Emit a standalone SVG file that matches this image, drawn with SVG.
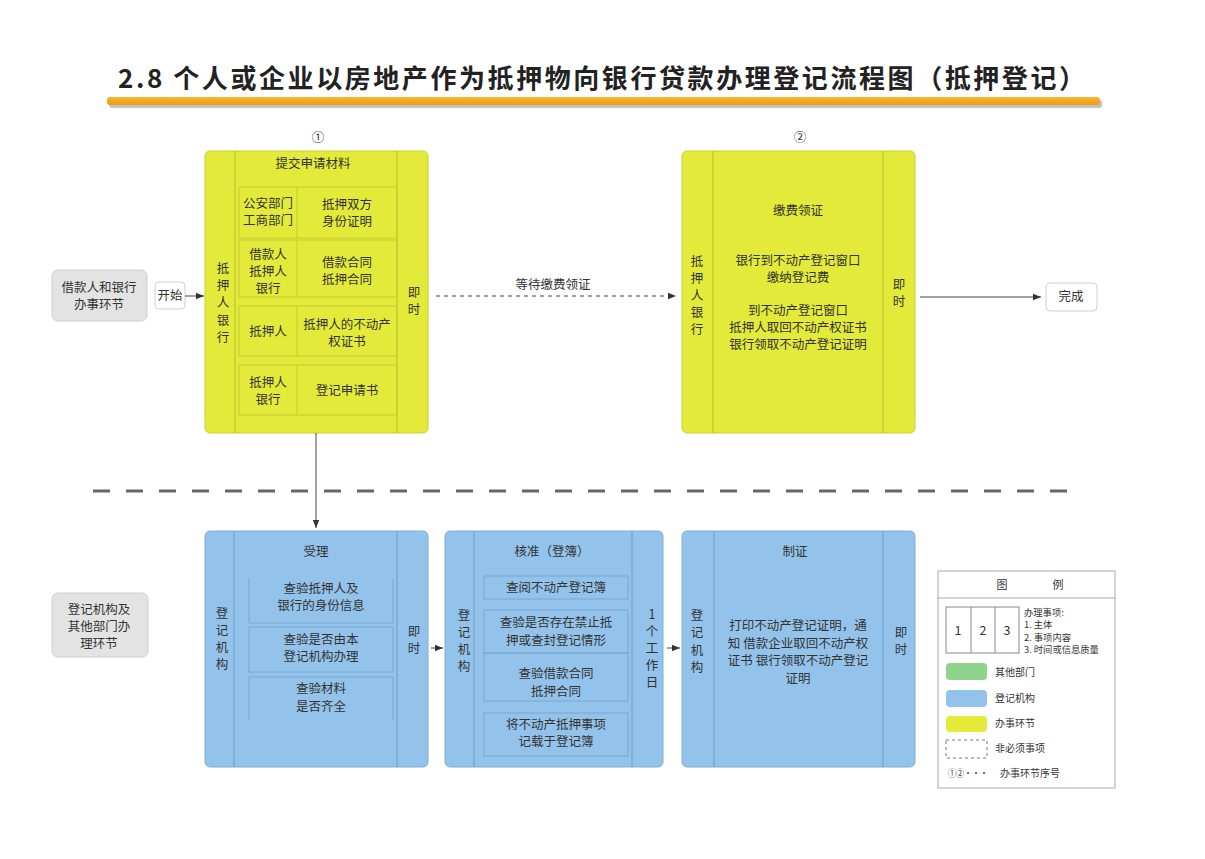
<svg xmlns="http://www.w3.org/2000/svg" width="1205" height="859" viewBox="0 0 1205 859">
<defs>
<style>
text{font-family:"Noto Sans CJK SC","Noto Sans",sans-serif;fill:#333;font-size:12.5px;text-anchor:middle}
.t{font-size:26px;font-weight:bold;fill:#222;text-anchor:start}
.y{fill:#e3ea3a;stroke:#c9cf33;stroke-width:1}
.b{fill:#93c3ea;stroke:#7fb0da;stroke-width:1}
.dy{stroke:#b9bf2c;stroke-width:1;fill:none}
.db{stroke:#6e9cc6;stroke-width:1;fill:none}
.iy{fill:none;stroke:#c5cc30;stroke-width:1}
.ib{fill:none;stroke:#79a8d2;stroke-width:1}
.g{fill:#e3e3e3;stroke:#cfcfcf;stroke-width:1}
.w{fill:#fff;stroke:#cfcfcf;stroke-width:1}
.c{stroke:#444;stroke-width:1;fill:none}
.s{font-size:10px;text-anchor:start}
.ls{font-size:9.3px;text-anchor:start}
</style>
<marker id="ah" viewBox="0 0 10 10" refX="10" refY="5" markerWidth="8" markerHeight="8" markerUnits="userSpaceOnUse" orient="auto"><path d="M0,1 L10,5 L0,9 z" fill="#333"/></marker>
<linearGradient id="og" x1="0" y1="0" x2="0" y2="1"><stop offset="0" stop-color="#f7b52e"/><stop offset="1" stop-color="#ee9a10"/></linearGradient>
</defs>
<rect width="1205" height="859" fill="#fff"/>
<g id="title">
<text class="t" x="118" y="88" textLength="967" lengthAdjust="spacing">2.8 个人或企业以房地产作为抵押物向银行贷款办理登记流程图（抵押登记）</text>
<rect x="109" y="100" width="993" height="8" rx="3" fill="#9a9a9a" opacity="0.6"/>
<rect x="107" y="97" width="993" height="8" rx="3" fill="url(#og)"/>
</g>
<g id="divider"><line x1="93" y1="491" x2="1077" y2="491" stroke="#666" stroke-width="3" stroke-dasharray="17,16"/></g>
<g id="lane1"><rect class="g" x="52" y="270" width="95" height="51" rx="6"/><text x="99" y="292">借款人和银行<tspan x="99" dy="17">办事环节</tspan></text></g>
<g id="lane2"><rect class="g" x="52" y="593" width="96" height="64" rx="6"/><text x="99" y="614">登记机构及<tspan x="99" dy="17">其他部门办</tspan><tspan x="99" dy="17">理环节</tspan></text></g>
<g id="start"><rect class="w" x="155" y="282" width="30" height="27" rx="4"/><text x="170" y="300">开始</text></g>
<g id="finish"><rect class="w" x="1046" y="283" width="51" height="28" rx="4"/><text x="1071" y="301">完成</text></g>
<g id="step1">
<text x="318" y="142">①</text>
<rect class="y" x="205" y="151" width="223" height="282" rx="5"/>
<line class="dy" x1="235" y1="151" x2="235" y2="433"/>
<line class="dy" x1="397" y1="151" x2="397" y2="433"/>
<text x="313" y="168">提交申请材料</text>
<rect class="iy" x="239" y="187" width="158" height="51"/><line class="iy" x1="297" y1="187" x2="297" y2="238"/>
<rect class="iy" x="239" y="240" width="158" height="57"/><line class="iy" x1="297" y1="240" x2="297" y2="297"/>
<rect class="iy" x="239" y="306" width="158" height="50"/><line class="iy" x1="297" y1="306" x2="297" y2="356"/>
<rect class="iy" x="239" y="365" width="158" height="50"/><line class="iy" x1="297" y1="365" x2="297" y2="415"/>
<text x="268" y="208">公安部门<tspan x="268" dy="17">工商部门</tspan></text>
<text x="347" y="209">抵押双方<tspan x="347" dy="17">身份证明</tspan></text>
<text x="268" y="259">借款人<tspan x="268" dy="17">抵押人</tspan><tspan x="268" dy="17">银行</tspan></text>
<text x="347" y="267">借款合同<tspan x="347" dy="17">抵押合同</tspan></text>
<text x="268" y="336">抵押人</text>
<text x="347" y="329">抵押人的不动产<tspan x="347" dy="17">权证书</tspan></text>
<text x="268" y="387">抵押人<tspan x="268" dy="17">银行</tspan></text>
<text x="347" y="395">登记申请书</text>
<text x="223" y="273">抵<tspan x="223" dy="17.2">押</tspan><tspan x="223" dy="17.2">人</tspan><tspan x="223" dy="17.2">银</tspan><tspan x="223" dy="17.2">行</tspan></text>
<text x="414" y="297">即<tspan x="414" dy="17">时</tspan></text>
</g>
<g id="step2">
<text x="800" y="142">②</text>
<rect class="y" x="682" y="151" width="233" height="282" rx="5"/>
<line class="dy" x1="713" y1="151" x2="713" y2="433"/>
<line class="dy" x1="883" y1="151" x2="883" y2="433"/>
<text x="798" y="215">缴费领证</text>
<text x="798" y="265">银行到不动产登记窗口<tspan x="798" dy="17">缴纳登记费</tspan></text>
<text x="798" y="315">到不动产登记窗口<tspan x="798" dy="17">抵押人取回不动产权证书</tspan><tspan x="798" dy="17">银行领取不动产登记证明</tspan></text>
<text x="697" y="266">抵<tspan x="697" dy="17">押</tspan><tspan x="697" dy="17">人</tspan><tspan x="697" dy="17">银</tspan><tspan x="697" dy="17">行</tspan></text>
<text x="899" y="289">即<tspan x="899" dy="17">时</tspan></text>
</g>
<g id="step3">
<rect class="b" x="205" y="531" width="223" height="236" rx="5"/>
<line class="db" x1="234" y1="531" x2="234" y2="767"/>
<line class="db" x1="397" y1="531" x2="397" y2="767"/>
<text x="316" y="556">受理</text>
<path class="ib" d="M249,578 V623 H393 V578"/>
<rect class="ib" x="249" y="627" width="144" height="45"/>
<path class="ib" d="M249,720 V677 H393 V720"/>
<text x="321" y="593">查验抵押人及<tspan x="321" dy="17">银行的身份信息</tspan></text>
<text x="321" y="644">查验是否由本<tspan x="321" dy="17">登记机构办理</tspan></text>
<text x="321" y="693">查验材料<tspan x="321" dy="18">是否齐全</tspan></text>
<text x="222" y="618">登<tspan x="222" dy="17">记</tspan><tspan x="222" dy="17">机</tspan><tspan x="222" dy="17">构</tspan></text>
<text x="414" y="636">即<tspan x="414" dy="17">时</tspan></text>
</g>
<g id="step4">
<rect class="b" x="445" y="531" width="218" height="236" rx="5"/>
<line class="db" x1="474" y1="531" x2="474" y2="767"/>
<line class="db" x1="632" y1="531" x2="632" y2="767"/>
<text x="552" y="556">核准（登簿）</text>
<rect class="ib" x="484" y="576" width="144" height="23"/>
<rect class="ib" x="484" y="610" width="144" height="43"/>
<rect class="ib" x="484" y="653" width="144" height="48"/>
<rect class="ib" x="484" y="713" width="144" height="43"/>
<text x="556" y="592">查阅不动产登记簿</text>
<text x="556" y="627">查验是否存在禁止抵<tspan x="556" dy="18">押或查封登记情形</tspan></text>
<text x="556" y="678">查验借款合同<tspan x="556" dy="18">抵押合同</tspan></text>
<text x="556" y="729">将不动产抵押事项<tspan x="556" dy="17">记载于登记簿</tspan></text>
<text x="464" y="620">登<tspan x="464" dy="17">记</tspan><tspan x="464" dy="17">机</tspan><tspan x="464" dy="17">构</tspan></text>
<text x="652" y="619">1<tspan x="652" dy="17">个</tspan><tspan x="652" dy="17">工</tspan><tspan x="652" dy="17">作</tspan><tspan x="652" dy="17">日</tspan></text>
</g>
<g id="step5">
<rect class="b" x="682" y="531" width="233" height="236" rx="5"/>
<line class="db" x1="714" y1="531" x2="714" y2="767"/>
<line class="db" x1="883" y1="531" x2="883" y2="767"/>
<text x="795" y="556">制证</text>
<text x="798" y="630">打印不动产登记证明，通<tspan x="798" dy="17.7">知 借款企业取回不动产权</tspan><tspan x="798" dy="17.7">证书 银行领取不动产登记</tspan><tspan x="798" dy="17.7">证明</tspan></text>
<text x="697" y="620">登<tspan x="697" dy="17.3">记</tspan><tspan x="697" dy="17.3">机</tspan><tspan x="697" dy="17.3">构</tspan></text>
<text x="901" y="637">即<tspan x="901" dy="17">时</tspan></text>
</g>
<g id="connectors">
<line class="c" x1="185" y1="296" x2="204" y2="296" marker-end="url(#ah)"/>
<line class="c" x1="436" y1="296" x2="676" y2="296" stroke-dasharray="4,4" marker-end="url(#ah)"/>
<text x="553" y="289">等待缴费领证</text>
<line class="c" x1="920" y1="297" x2="1041" y2="297" marker-end="url(#ah)"/>
<line class="c" x1="316" y1="433" x2="316" y2="528" marker-end="url(#ah)"/>
<line class="c" x1="431" y1="648" x2="443" y2="648" marker-end="url(#ah)"/>
<line class="c" x1="667" y1="648" x2="680" y2="648" marker-end="url(#ah)"/>
</g>
<g id="legend">
<rect x="938" y="571" width="177" height="217" fill="#fff" stroke="#aaa"/>
<line x1="938" y1="598" x2="1115" y2="598" stroke="#aaa"/>
<text x="1002" y="589" style="font-size:11px">图</text><text x="1058" y="589" style="font-size:11px">例</text>
<rect x="946" y="607" width="73" height="46" fill="#fff" stroke="#888"/>
<line x1="971" y1="607" x2="971" y2="653" stroke="#888"/><line x1="995" y1="607" x2="995" y2="653" stroke="#888"/>
<text x="958" y="635">1</text><text x="983" y="635">2</text><text x="1007" y="635">3</text>
<text class="ls" x="1024" y="616">办理事项:<tspan x="1024" dy="12.3">1. 主体</tspan><tspan x="1024" dy="12.3">2. 事项内容</tspan><tspan x="1024" dy="12.3">3. 时间或信息质量</tspan></text>
<rect x="946" y="663" width="41" height="17" rx="4" fill="#8fd48c"/>
<text class="s" x="995" y="676">其他部门</text>
<rect x="946" y="690" width="41" height="17" rx="4" fill="#93c3ea"/>
<text class="s" x="995" y="702">登记机构</text>
<rect x="946" y="716" width="41" height="16" rx="4" fill="#e3ea3a"/>
<text class="s" x="995" y="727">办事环节</text>
<rect x="946" y="740" width="41" height="18" fill="none" stroke="#777" stroke-dasharray="3,3"/>
<text class="s" x="995" y="752">非必须事项</text>
<text class="s" x="948" y="777" textLength="40" lengthAdjust="spacingAndGlyphs">①②···</text>
<text class="s" x="1000" y="777">办事环节序号</text>
</g>
</svg>
